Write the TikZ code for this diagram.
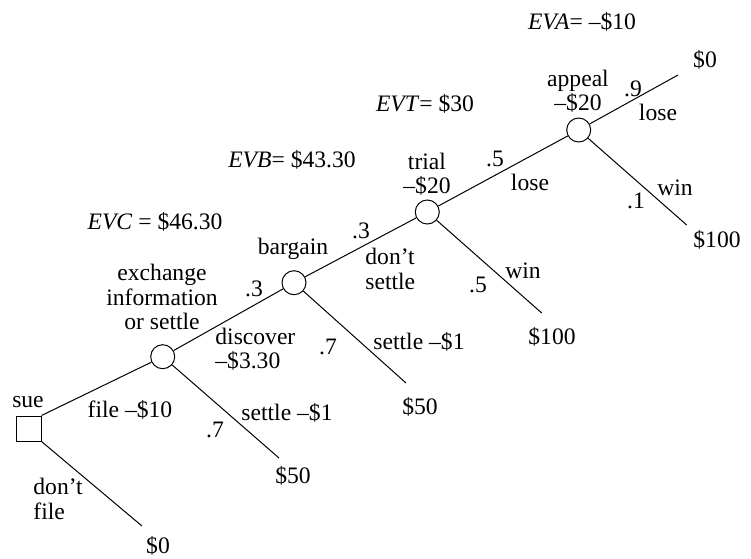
\documentclass[tikz,border=0pt]{standalone}
\usepackage{fontspec}
\setmainfont{Liberation Serif}
\begin{document}
\begin{tikzpicture}[x=0.5pt,y=-0.5pt,
  every node/.style={font=\fontsize{11.8}{12.2}\selectfont, inner sep=0pt},
  chance/.style={draw, circle, minimum size=12pt, line width=0.5pt},
  decision/.style={draw, rectangle, minimum size=12.5pt, line width=0.5pt},
  branch/.style={line width=0.5pt},
  lbl/.style={align=center},
  lbll/.style={align=left, anchor=west}]
\useasboundingbox (0,0) rectangle (751,558);
% decision and chance nodes
\node[decision] (sue) at (28.5,428.5) {};
\node[chance] (c1) at (162.7,356.7) {};
\node[chance] (c2) at (294,282.7) {};
\node[chance] (c3) at (427.3,212) {};
\node[chance] (c4) at (578.7,130) {};
% end points
\coordinate (e0) at (142,526);
\coordinate (e1) at (279,458);
\coordinate (e2) at (406,383);
\coordinate (e3) at (541.7,313);
\coordinate (e4u) at (678,75);
\coordinate (e4d) at (686.7,225);
% branches
\draw[branch] (sue.north east) -- (c1);
\draw[branch] (sue.south east) -- (e0);
\draw[branch] (c1) -- (c2);
\draw[branch] (c1) -- (e1);
\draw[branch] (c2) -- (c3);
\draw[branch] (c2) -- (e2);
\draw[branch] (c3) -- (c4);
\draw[branch] (c3) -- (e3);
\draw[branch] (c4) -- (e4u);
\draw[branch] (c4) -- (e4d);
% labels
\node (tsue) at (28,402) {sue};
\node (tfile) at (130,410) {file –\$10};
\node[lbll] (tdont) at (33,499) {don’t\\file};
\node (v0) at (158,546) {\$0};
\node[lbl] (texch) at (162,297) {exchange\\information\\or settle};
\node (p1) at (254,289) {.3};
\node[lbll] (tdisc) at (215,349) {discover\\–\$3.30};
\node (p2) at (215,430) {.7};
\node (tset1) at (287,413) {settle –\$1};
\node (v1) at (293,476) {\$50};
\node (tbarg) at (293,249) {bargain};
\node (p3) at (361,231) {.3};
\node[lbll] (tdset) at (365,269) {don’t\\settle};
\node (p4) at (328,347) {.7};
\node (tset2) at (419,342) {settle –\$1};
\node (v2) at (420,407) {\$50};
\node[lbl] (ttrial) at (427,174) {trial\\–\$20};
\node (p5) at (495,159) {.5};
\node (tlose1) at (530,182) {lose};
\node (twin1) at (523,271) {win};
\node (p6) at (478,285) {.5};
\node (v3) at (552,337) {\$100};
\node[lbl] (tapp) at (578,91) {appeal\\–\$20};
\node (p7) at (633,89) {.9};
\node (tlose2) at (658,112) {lose};
\node (twin2) at (675,188) {win};
\node (p8) at (636,201) {.1};
\node (v4u) at (705,60) {\$0};
\node (v4d) at (717,240) {\$100};
% expected values
\node (evc) at (155,222) {\textit{EVC} = \$46.30};
\node (evb) at (292,160) {\textit{EVB}= \$43.30};
\node (evt) at (425,104) {\textit{EVT}= \$30};
\node (eva) at (582,22) {\textit{EVA}= –\$10};
\end{tikzpicture}
\end{document}
